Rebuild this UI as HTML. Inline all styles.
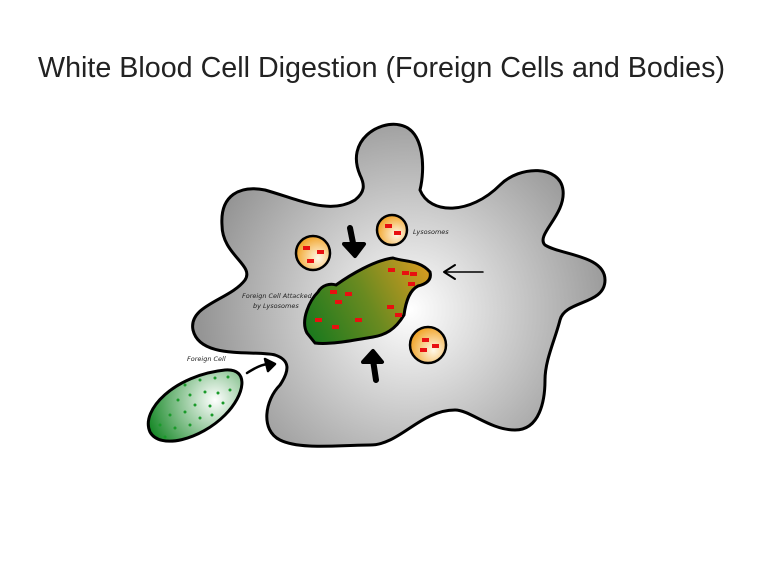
<!DOCTYPE html>
<html><head><meta charset="utf-8"><style>html,body{margin:0;padding:0;background:#fff;width:768px;height:561px;overflow:hidden}</style></head>
<body>
<svg width="768" height="561" viewBox="0 0 768 561" xmlns="http://www.w3.org/2000/svg">
<defs>
<radialGradient id="g" cx="410" cy="310" r="210" gradientUnits="userSpaceOnUse">
<stop offset="0" stop-color="#ffffff"/><stop offset="1" stop-color="#959595"/></radialGradient>
<radialGradient id="ly" cx="0.65" cy="0.65" r="0.7"><stop offset="0" stop-color="#fff8e8"/><stop offset="1" stop-color="#f0a020"/></radialGradient>
<linearGradient id="fc" x1="310" y1="330" x2="425" y2="270" gradientUnits="userSpaceOnUse"><stop offset="0" stop-color="#1e7a1e"/><stop offset="0.5" stop-color="#6a8a20"/><stop offset="1" stop-color="#d09a20"/></linearGradient>
<radialGradient id="gc" cx="215" cy="400" r="70" gradientUnits="userSpaceOnUse"><stop offset="0" stop-color="#ffffff"/><stop offset="1" stop-color="#1a8a2a"/></radialGradient>
</defs>
<text x="38" y="77" font-family="Liberation Sans, sans-serif" font-size="29" fill="#222" textLength="687" lengthAdjust="spacingAndGlyphs">White Blood Cell Digestion (Foreign Cells and Bodies)</text>
<path d="M360,175 C345,140 380,120 400,125 C425,130 425,170 420,190 C430,215 470,215 500,185 C520,165 560,165 563,190 C566,215 535,235 545,245 C560,255 605,255 605,280 C605,305 565,300 560,320 C555,340 545,360 545,380 C545,400 540,430 515,430 C490,430 470,410 455,410 C420,410 400,445 370,445 C340,445 300,450 280,440 C260,430 265,400 280,385 C290,370 290,360 275,355 C255,350 200,360 193,330 C188,305 230,300 245,280 C255,265 222,255 222,225 C220,195 240,185 265,190 C300,200 330,215 355,200 C365,192 365,185 360,175 Z" fill="url(#g)" stroke="#000" stroke-width="3"/>
<path d="M307,333 C300,320 310,300 318,292 C322,285 330,283 336,285 C350,275 375,260 393,258 C405,262 420,260 430,272 C432,280 426,284 418,286 C410,290 406,300 404,315 C395,330 385,335 373,337 C355,340 330,345 315,343 Z" fill="url(#fc)" stroke="#000" stroke-width="3"/>
<g fill="#e81010">
<rect x="330" y="290" width="7" height="4"/><rect x="345" y="292" width="7" height="4"/><rect x="335" y="300" width="7" height="4"/>
<rect x="388" y="268" width="7" height="4"/><rect x="402" y="271" width="7" height="4"/><rect x="410" y="272" width="7" height="4"/><rect x="408" y="282" width="7" height="4"/>
<rect x="387" y="305" width="7" height="4"/><rect x="395" y="313" width="7" height="4"/><rect x="315" y="318" width="7" height="4"/><rect x="332" y="325" width="7" height="4"/><rect x="355" y="318" width="7" height="4"/>
</g>
<circle cx="313" cy="253" r="17" fill="url(#ly)" stroke="#000" stroke-width="2.5"/>
<circle cx="392" cy="230" r="15" fill="url(#ly)" stroke="#000" stroke-width="2.5"/>
<circle cx="428" cy="345" r="18" fill="url(#ly)" stroke="#000" stroke-width="2.5"/>
<g fill="#e81010">
<rect x="303" y="246" width="7" height="4"/><rect x="317" y="250" width="7" height="4"/><rect x="307" y="259" width="7" height="4"/>
<rect x="385" y="224" width="7" height="4"/><rect x="394" y="231" width="7" height="4"/>
<rect x="422" y="338" width="7" height="4"/><rect x="432" y="344" width="7" height="4"/><rect x="420" y="348" width="7" height="4"/>
</g>
<path d="M150,432 C140,410 175,375 225,370 C250,368 245,395 225,415 C200,440 160,450 150,432 Z" fill="url(#gc)" stroke="#000" stroke-width="3"/>
<g fill="#1a9a2a">
<circle cx="200" cy="380" r="1.5"/><circle cx="215" cy="378" r="1.5"/><circle cx="228" cy="377" r="1.5"/><circle cx="230" cy="390" r="1.5"/><circle cx="218" cy="393" r="1.5"/><circle cx="205" cy="392" r="1.5"/><circle cx="190" cy="395" r="1.5"/><circle cx="178" cy="400" r="1.5"/><circle cx="195" cy="405" r="1.5"/><circle cx="210" cy="406" r="1.5"/><circle cx="223" cy="403" r="1.5"/><circle cx="185" cy="412" r="1.5"/><circle cx="200" cy="418" r="1.5"/><circle cx="170" cy="415" r="1.5"/><circle cx="160" cy="425" r="1.5"/><circle cx="175" cy="428" r="1.5"/><circle cx="190" cy="425" r="1.5"/><circle cx="165" cy="437" r="1.5"/><circle cx="212" cy="415" r="1.5"/><circle cx="185" cy="385" r="1.5"/>
</g>
<g stroke="#000" fill="none" stroke-linecap="round" stroke-linejoin="round">
<path d="M350,228 L354,248" stroke-width="6"/><path d="M344,244 L355,256 L364,244 Z" stroke-width="4" fill="#000"/>
<path d="M376,380 L373,360" stroke-width="6"/><path d="M363,362 L373,351 L382,362 Z" stroke-width="4" fill="#000"/>
<path d="M483,272 L445,272" stroke-width="1.5"/><path d="M455,265 L444,272 L455,279" stroke-width="2"/>
<path d="M247,373 C255,368 262,364 270,364" stroke-width="2.5"/><path d="M265,359 L275,364 L268,371 Z" stroke-width="2.5" fill="#000"/>
</g>
<g font-family="'DejaVu Sans', sans-serif" font-size="6.5" fill="#222" font-style="italic">
<text x="413" y="234">Lysosomes</text>
<text x="242" y="298">Foreign Cell Attacked</text>
<text x="253" y="308">by Lysosomes</text>
<text x="187" y="361">Foreign Cell</text>
</g>
</svg>
</body></html>
